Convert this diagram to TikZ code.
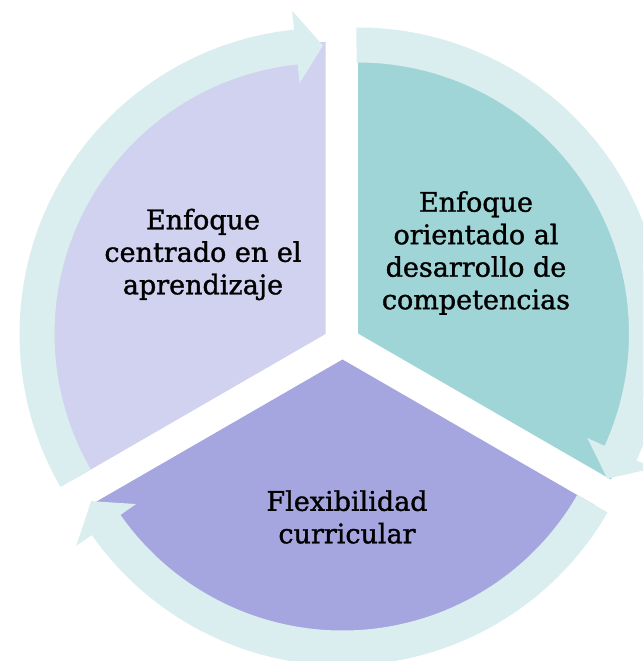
\documentclass[tikz,border=0pt]{standalone}
\usepackage{fontspec}
\setmainfont[FakeStretch=1.0,FakeBold=1.3]{DejaVu Serif}
\usetikzlibrary{calc}
\definecolor{bandc}{RGB}{218,237,239}
\definecolor{wleft}{RGB}{209,209,240}
\definecolor{wright}{RGB}{160,213,216}
\definecolor{wbottom}{RGB}{165,165,223}
\tikzset{
  lbl/.style={align=center, text=black, inner sep=0pt, font=\fontsize{27pt}{32.5pt}\selectfont},
  band/.style={fill=bandc},
}
% band macro: center, tail angle, base angle, tip angle
\newcommand{\cyclearrow}[4]{%
  \fill[band] ($(#1)+(#2:306pt)$) arc[start angle=#2, end angle=#3, radius=306pt]
    -- ($(#1)+(#3:325pt)$) -- ($(#1)+(#4:288.5pt)$) -- ($(#1)+(#3:252pt)$)
    -- ($(#1)+(#3:271pt)$) arc[start angle=#3, end angle=#2, radius=271pt] -- cycle;}
\begin{document}
\begin{tikzpicture}[x=1pt,y=1pt]
\useasboundingbox (0,0) rectangle (643,661);
\clip (0,0) rectangle (643,661);
\coordinate (L) at (325.5,327);
\coordinate (T) at (358,327.5);
\coordinate (B) at (342.5,301.5);
% wedges
\fill[wleft] (L) -- ($(L)+(210:292pt)$) arc[start angle=210, end angle=90, radius=292pt] -- cycle;
\fill[wright] (T) -- ($(T)+(90:292pt)$) arc[start angle=90, end angle=-30, radius=292pt] -- cycle;
\fill[wbottom] (B) -- ($(B)+(330:292pt)$) arc[start angle=330, end angle=210, radius=292pt] -- cycle;
% circular arrows
\cyclearrow{L}{210}{95.9}{90.5}
\cyclearrow{T}{90.3}{-24.5}{-30.2}
\cyclearrow{B}{330}{215}{209.4}
% texts
\node[lbl] (t1) at (203,406.5) {Enfoque\\centrado en el\\aprendizaje};
\node[lbl] (t2) at (476,408) {Enfoque\\orientado al\\desarrollo de\\competencias};
\node[lbl] (t3) at (347,144) {Flexibilidad\\curricular};
\end{tikzpicture}
\end{document}
